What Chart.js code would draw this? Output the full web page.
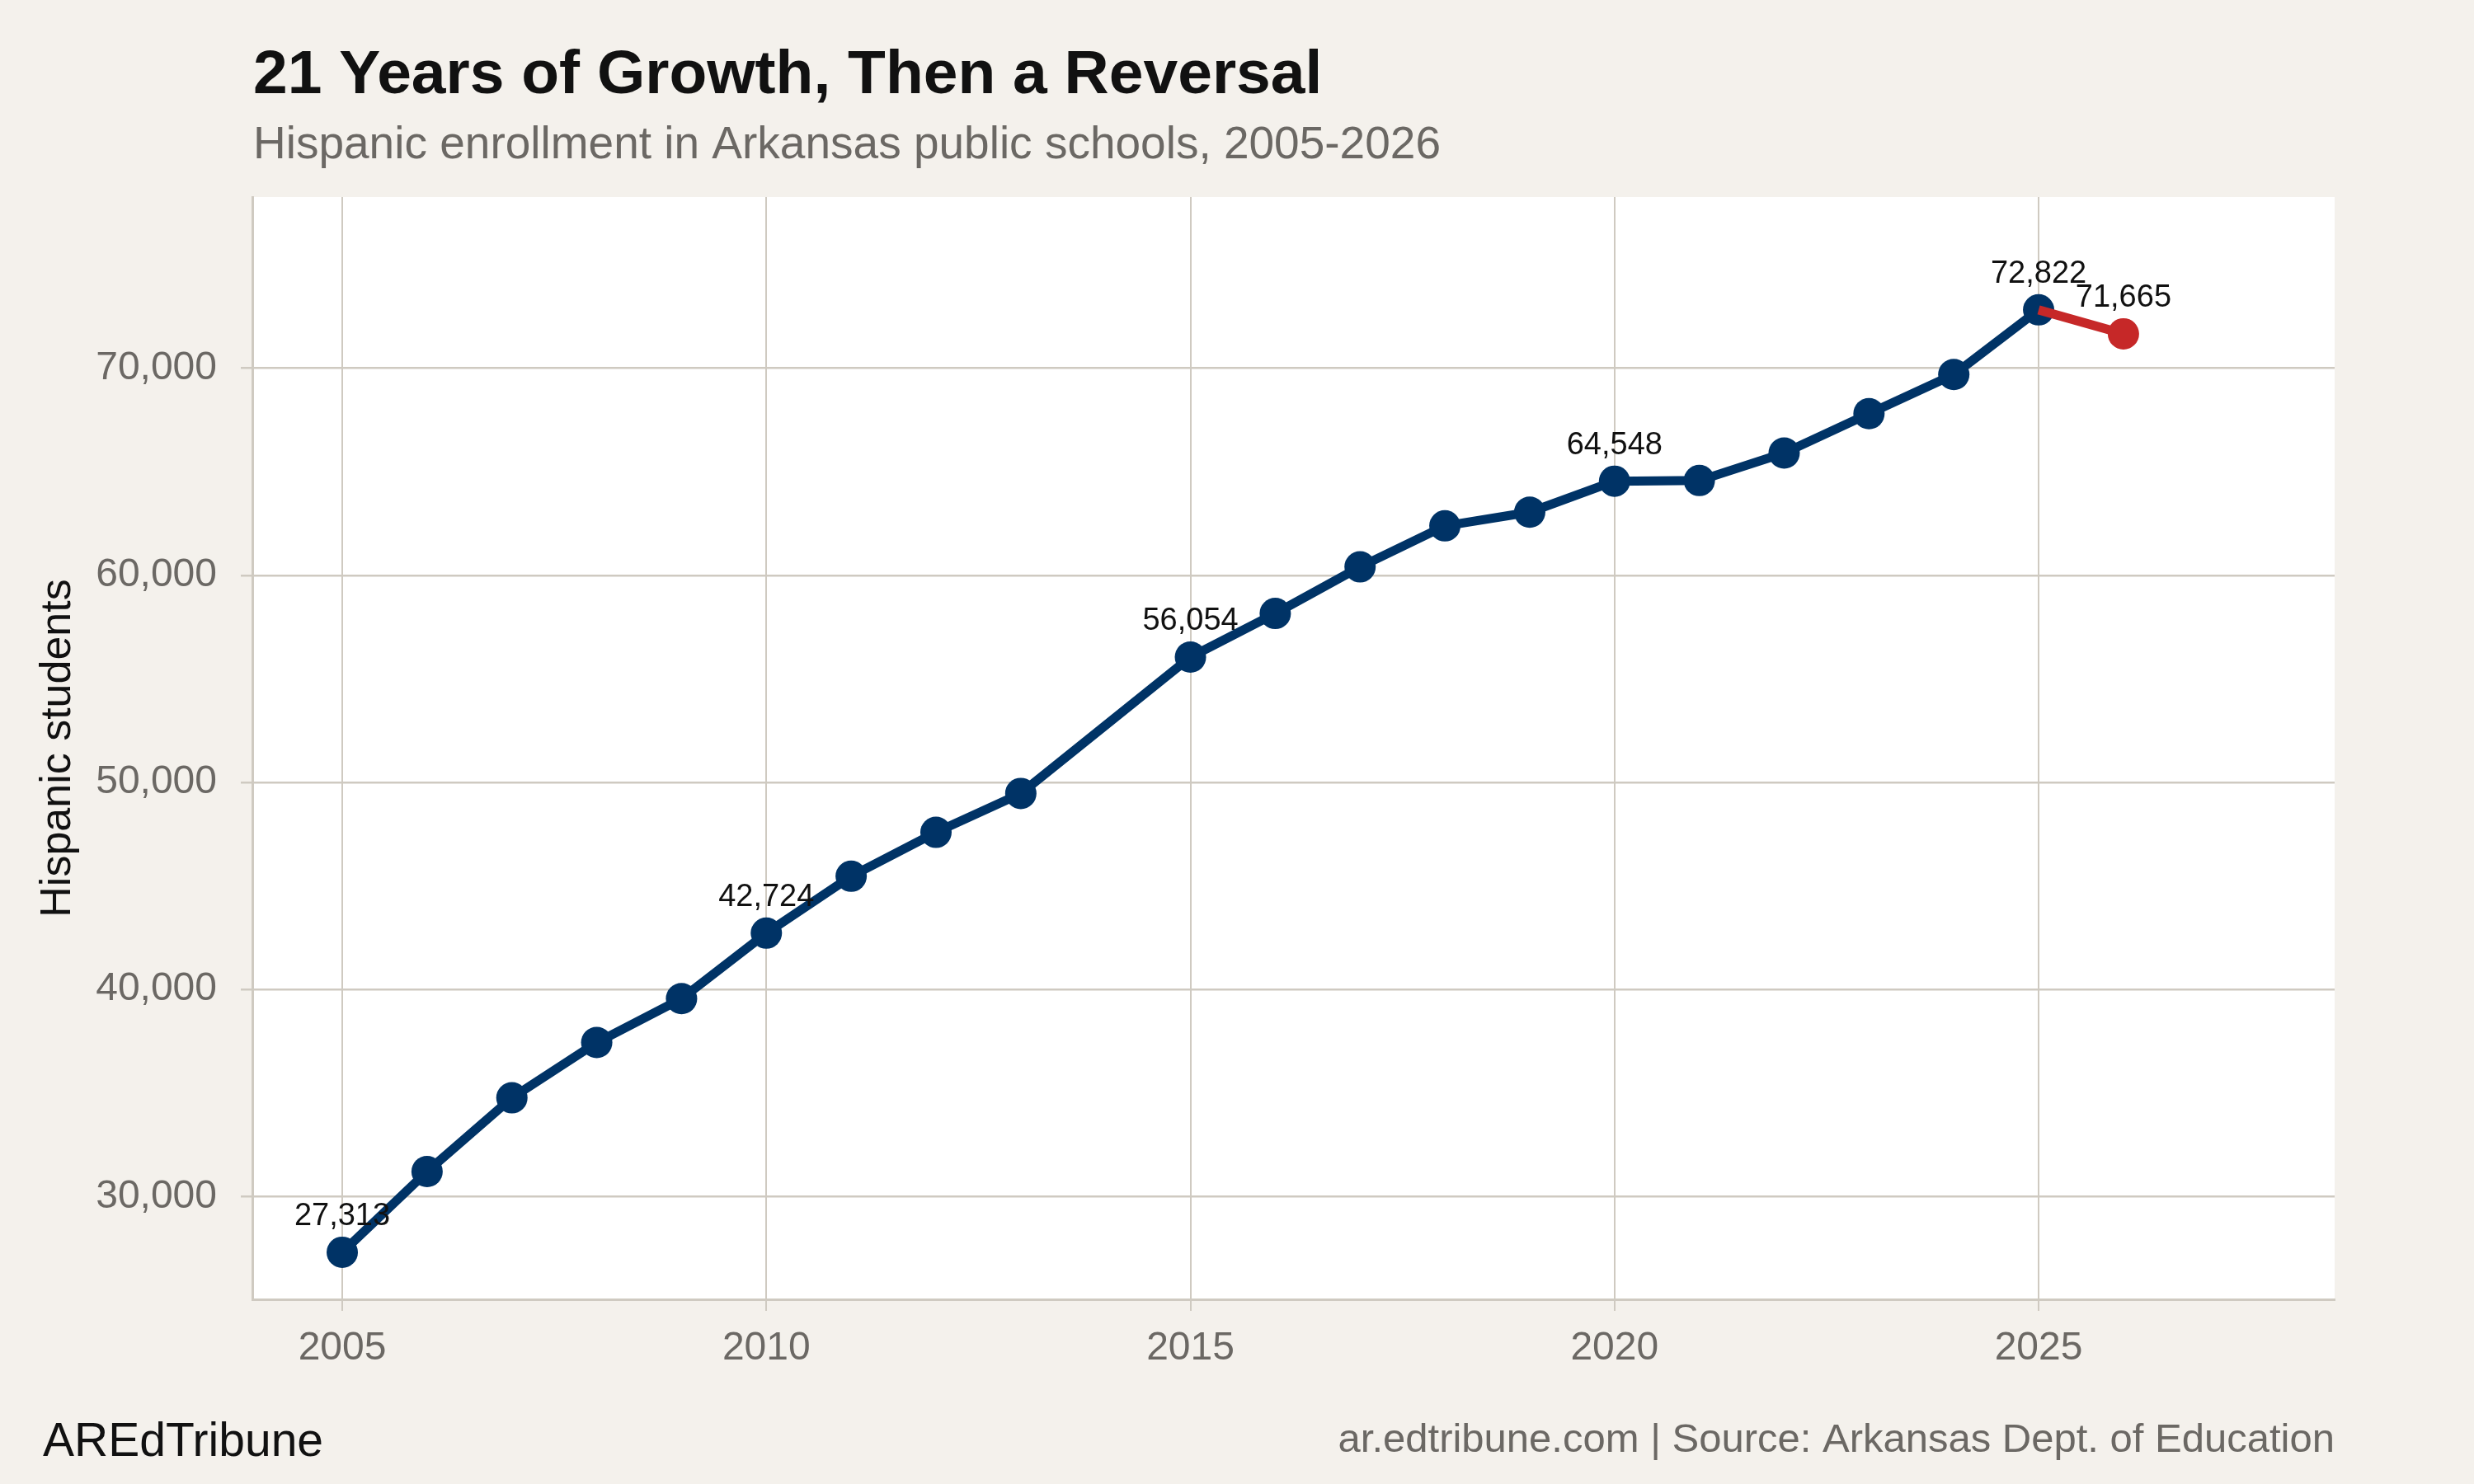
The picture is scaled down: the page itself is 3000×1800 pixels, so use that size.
<!DOCTYPE html>
<html>
<head>
<meta charset="utf-8">
<title>21 Years of Growth, Then a Reversal</title>
<script src="https://cdn.jsdelivr.net/npm/chart.js@4.4.1/dist/chart.umd.min.js"></script>
<style>
  html, body { margin: 0; padding: 0; background: #f4f1ec; }
  #wrap { width: 3000px; height: 1800px; }
</style>
</head>
<body>
<div id="wrap"><canvas id="chart" width="3000" height="1800"></canvas></div>
<script>
// Hispanic enrollment, Arkansas public schools (no 2014 figure in the source)
const years = [2005, 2006, 2007, 2008, 2009, 2010, 2011, 2012, 2013,
               2015, 2016, 2017, 2018, 2019, 2020, 2021, 2022, 2023, 2024, 2025];
const enrollment = [27313, 31210, 34770, 37440, 39560, 42724, 45470, 47590, 49470,
                    56054, 58160, 60410, 62390, 63050, 64548, 64580, 65910, 67810, 69700, 72822];

// the one-year drop, drawn in red
const dropYears = [2025, 2026];
const dropValues = [72822, 71665];

const labeledYears = [2005, 2010, 2015, 2020, 2025, 2026];
const xTicks = [2005, 2010, 2015, 2020, 2025];
const yTicks = [30000, 40000, 50000, 60000, 70000];

const NAVY = '#003366';
const RED = '#c62828';
const GRID = '#cfcac1';
const GREY = '#6b6864';
const INK = '#111111';
const BG = '#f4f1ec';
const FONT = "'Liberation Sans', Arial, Helvetica, sans-serif";

Chart.defaults.font.family = FONT;

const fmt = v => v.toLocaleString('en-US');

// beige page, white panel
const panelBg = {
  id: 'panelBg',
  beforeDraw(chart) {
    const { ctx, chartArea: a } = chart;
    ctx.save();
    ctx.fillStyle = BG;
    ctx.fillRect(0, 0, chart.width, chart.height);
    ctx.fillStyle = '#ffffff';
    ctx.fillRect(a.left, a.top, a.right - a.left, a.bottom - a.top);
    ctx.restore();
  }
};

// value labels above selected points
const pointLabels = {
  id: 'pointLabels',
  afterDatasetsDraw(chart) {
    const { ctx } = chart;
    ctx.save();
    ctx.font = '38px ' + FONT;
    ctx.fillStyle = INK;
    ctx.textAlign = 'center';
    ctx.textBaseline = 'alphabetic';
    chart.data.datasets.forEach((ds, i) => {
      const meta = chart.getDatasetMeta(i);
      meta.data.forEach((pt, j) => {
        const d = ds.data[j];
        const r = Array.isArray(ds.pointRadius) ? ds.pointRadius[j] : ds.pointRadius;
        if (!r || !labeledYears.includes(d.x)) return;
        ctx.fillText(fmt(d.y), pt.x, pt.y - 33);
      });
    });
    ctx.restore();
  }
};

// title, subtitle and footer
const headings = {
  id: 'headings',
  afterDraw(chart) {
    const { ctx, chartArea: a } = chart;
    ctx.save();
    ctx.textBaseline = 'alphabetic';
    ctx.textAlign = 'left';
    ctx.fillStyle = INK;
    ctx.font = 'bold 75px ' + FONT;
    ctx.fillText('21 Years of Growth, Then a Reversal', a.left + 1, 113);
    ctx.fillStyle = GREY;
    ctx.font = '55px ' + FONT;
    ctx.fillText('Hispanic enrollment in Arkansas public schools, 2005-2026', a.left + 1, 192);
    ctx.fillStyle = INK;
    ctx.font = '57px ' + FONT;
    ctx.fillText('AREdTribune', 52, 1766);
    ctx.fillStyle = GREY;
    ctx.font = '49px ' + FONT;
    ctx.textAlign = 'right';
    ctx.fillText('ar.edtribune.com | Source: Arkansas Dept. of Education', a.right, 1761);
    ctx.restore();
  }
};

new Chart(document.getElementById('chart'), {
  type: 'line',
  data: {
    datasets: [
      {
        label: 'Decline',
        data: dropYears.map((x, i) => ({ x, y: dropValues[i] })),
        borderColor: RED,
        backgroundColor: RED,
        borderWidth: 11,
        pointRadius: [0, 19],
        pointBorderWidth: 0,
        order: 0
      },
      {
        label: 'Hispanic students',
        data: years.map((x, i) => ({ x, y: enrollment[i] })),
        borderColor: NAVY,
        backgroundColor: NAVY,
        borderWidth: 11,
        borderJoinStyle: 'round',
        pointRadius: 19,
        pointBorderWidth: 0,
        order: 1
      }
    ]
  },
  options: {
    responsive: false,
    devicePixelRatio: 1,
    animation: false,
    events: [],
    layout: { padding: { left: 0, top: 239, right: 169, bottom: 0 } },
    plugins: {
      legend: { display: false },
      tooltip: { enabled: false },
      title: { display: false }
    },
    scales: {
      x: {
        type: 'linear',
        min: 2003.94,
        max: 2028.49,
        afterBuildTicks: s => { s.ticks = xTicks.map(v => ({ value: v })); },
        afterFit: s => { s.height = 224; },
        grid: { color: GRID, lineWidth: 2, tickLength: 14, tickColor: GRID, tickWidth: 2 },
        border: { display: true, color: GRID, width: 3 },
        ticks: { color: GREY, font: { size: 48 }, padding: 17, maxRotation: 0, callback: v => String(v) }
      },
      y: {
        min: 25040,
        max: 78270,
        afterBuildTicks: s => { s.ticks = yTicks.map(v => ({ value: v })); },
        afterFit: s => { s.width = 306; },
        grid: { color: GRID, lineWidth: 2.5, tickLength: 14, tickColor: GRID, tickWidth: 2.5 },
        border: { display: true, color: GRID, width: 3 },
        ticks: { color: GREY, font: { size: 48 }, padding: 29, callback: v => fmt(v) },
        title: {
          display: true,
          text: 'Hispanic students',
          color: INK,
          font: { size: 52 },
          padding: { top: 39, bottom: 0 }
        }
      }
    }
  },
  plugins: [panelBg, pointLabels, headings]
});
</script>
</body>
</html>
